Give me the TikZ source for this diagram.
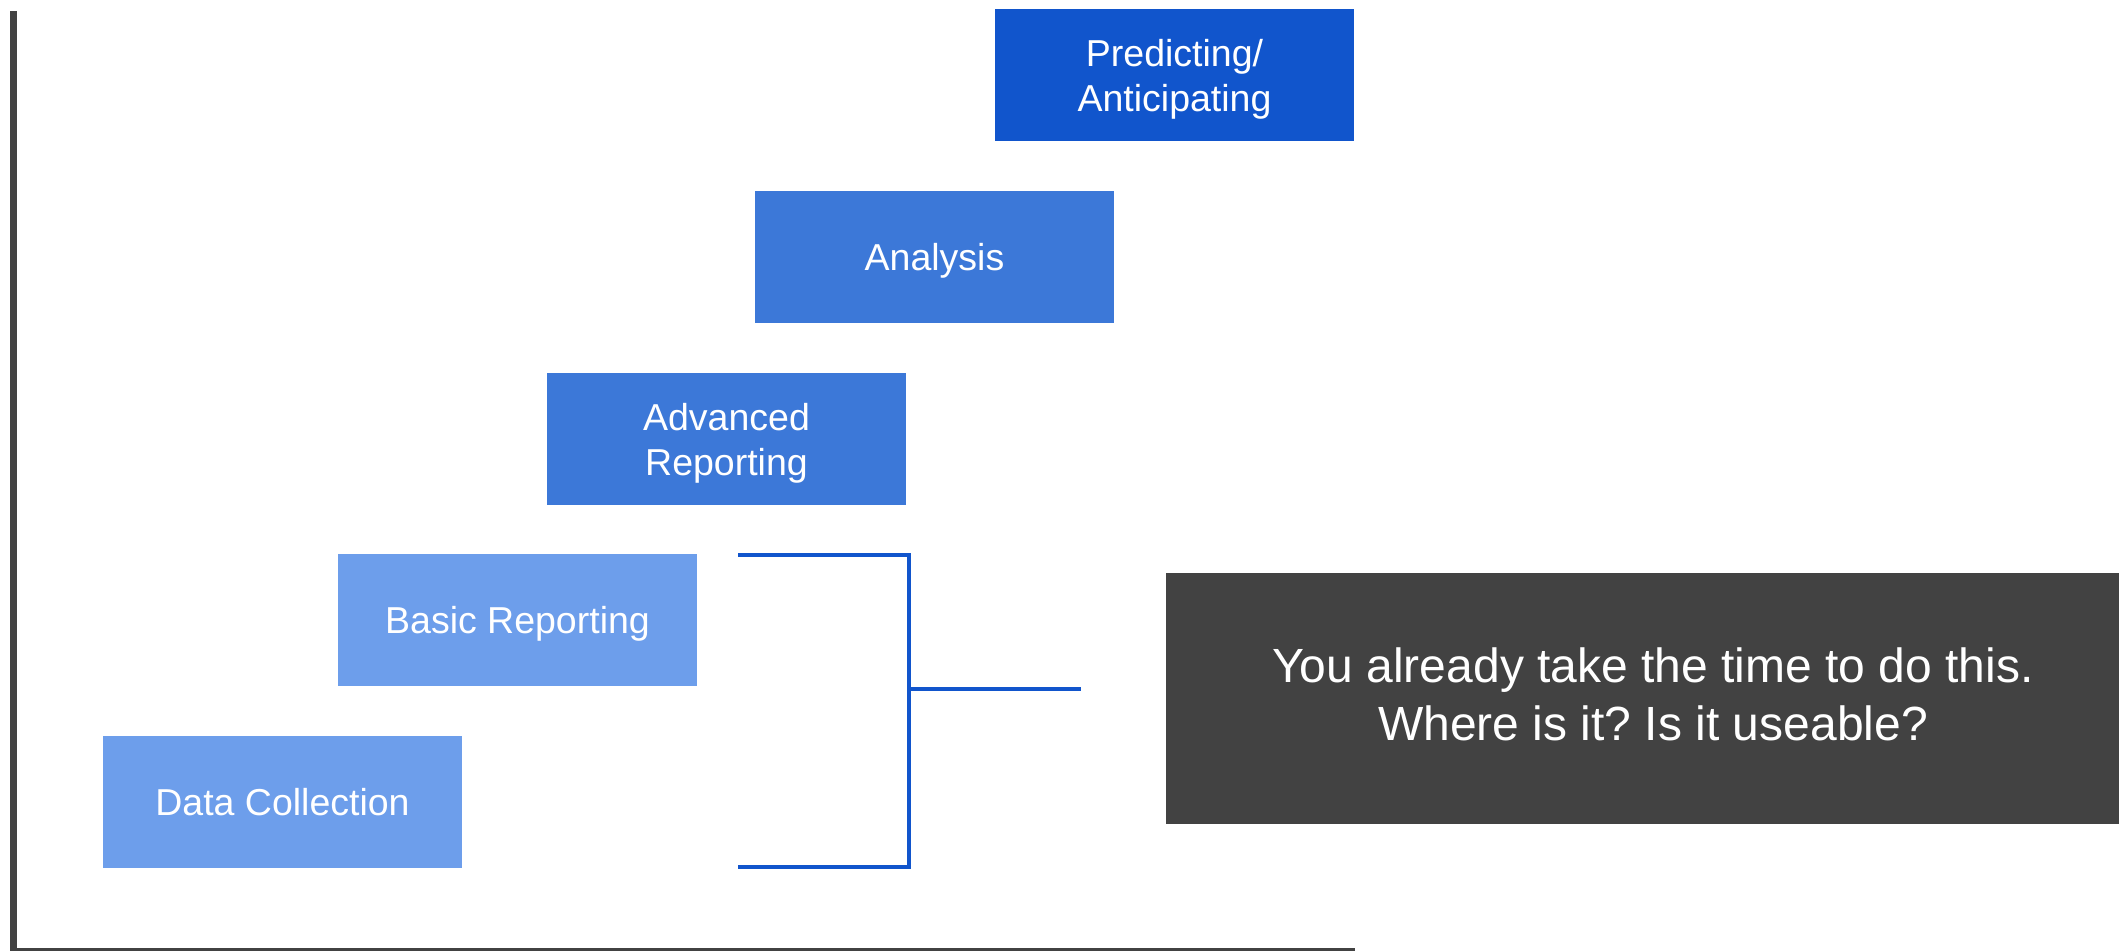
\documentclass[tikz,border=0pt]{standalone}
\usepackage{fontspec}
\setmainfont{Liberation Sans}
\usepackage{tikz}
\usetikzlibrary{positioning}

\definecolor{topblue}{HTML}{1155CC}
\definecolor{midblue}{HTML}{3C78D8}
\definecolor{lowblue}{HTML}{6D9EEB}
\definecolor{darkgrey}{HTML}{424242}

\frenchspacing

\begin{document}
\begin{tikzpicture}[x=0.5pt,y=-0.5pt]
\tikzstyle{stage}=[rectangle, inner sep=0pt, text=white, align=center,
minimum width=179.5pt, minimum height=66pt, text depth=0pt,
font=\fontsize{18.75}{22.5}\selectfont]
\tikzstyle{brace}=[draw=topblue, line width=1.7pt]

\useasboundingbox (0,0) rectangle (2119,951);

% axes
\draw[darkgrey, line width=3.5pt] (13.5,11) -- (13.5,951) -- (1355,951);

% maturity steps
\node[stage, fill=lowblue] (data) at (282.5,801.5) {Data Collection};
\node[stage, fill=lowblue] (basic) at (517.5,620) {Basic Reporting};
\node[stage, fill=midblue] (adv) at (726.5,439) {Advanced\\Reporting};
\node[stage, fill=midblue] (analysis) at (934.5,257) {Analysis};
\node[stage, fill=topblue] (predict) at (1174.5,75.5) {Predicting/\\Anticipating};

% bracket over the two lower steps
\coordinate (btop) at (738,555);
\coordinate (bbot) at (738,867);
\coordinate (bmid) at (909,689);
\coordinate (bend) at (1081,689);
\draw[brace] (btop) -- (909,555) -- (909,867) -- (bbot);
\draw[brace] (bmid) -- (bend);

% note (runs off the right edge)
\node[rectangle, fill=darkgrey, text=white, align=center, inner sep=0pt,
minimum width=487pt, minimum height=125.5pt, text depth=3.6pt,
font=\fontsize{24}{29}\selectfont] (note) at (1653,698)
{You already take the time to do this.\\Where is it? Is it useable?};

\end{tikzpicture}
\end{document}
